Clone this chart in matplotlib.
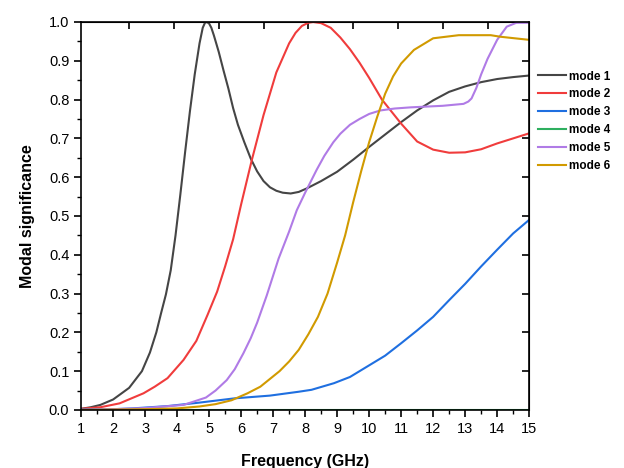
import matplotlib.pyplot as plt
from matplotlib.ticker import MultipleLocator

# mode 1
f1 = [1, 1.3, 1.6, 2.0, 2.5, 2.9, 3.15, 3.35, 3.5, 3.65, 3.8, 3.95, 4.1, 4.25, 4.4, 4.55, 4.7,
      4.8, 4.87, 4.93, 5.0, 5.07, 5.15, 5.3, 5.45, 5.6, 5.75, 5.9, 6.1, 6.3, 6.5, 6.7, 6.9, 7.1,
      7.3, 7.55, 7.8, 8.05, 8.5, 9.0, 9.5, 10.0, 10.5, 11, 11.5, 12, 12.5, 13, 13.5, 14, 14.5, 15]
m1 = [0.003, 0.007, 0.013, 0.027, 0.057, 0.10, 0.148, 0.20, 0.25, 0.298, 0.36, 0.45, 0.555, 0.665,
      0.77, 0.865, 0.945, 0.985, 0.998, 1.0, 0.996, 0.985, 0.965, 0.923, 0.875, 0.829, 0.778,
      0.735, 0.69, 0.648, 0.615, 0.59, 0.574, 0.565, 0.56, 0.558, 0.562, 0.571, 0.59, 0.614,
      0.645, 0.678, 0.71, 0.742, 0.772, 0.798, 0.82, 0.834, 0.845, 0.853, 0.858, 0.862]

# mode 2
f2 = [1, 1.6, 2.2, 2.95, 3.3, 3.7, 4.2, 4.6, 4.95, 5.25, 5.5, 5.75, 6.0, 6.33, 6.7, 7.1, 7.5, 7.7,
      7.9, 8.1, 8.25, 8.5, 8.8, 9.1, 9.4, 9.7, 10.0, 10.4, 11, 11.5, 12, 12.5, 13, 13.5, 14,
      14.5, 15]
m2 = [0.003, 0.007, 0.017, 0.043, 0.06, 0.082, 0.129, 0.178, 0.245, 0.305, 0.37, 0.44, 0.53, 0.643,
      0.76, 0.87, 0.945, 0.972, 0.99, 0.998, 1.0, 0.997, 0.985, 0.96, 0.93, 0.895, 0.856, 0.80,
      0.738, 0.692, 0.671, 0.663, 0.664, 0.672, 0.687, 0.70, 0.713]

# mode 3
f3 = [1, 2, 2.6, 3.7, 4.7, 5.8, 6.9, 7.8, 8.2, 8.9, 9.4, 9.9, 10.5, 11, 11.5, 12, 12.5, 13, 13.5,
      14, 14.5, 15]
m3 = [0.001, 0.002, 0.004, 0.01, 0.019, 0.03, 0.037, 0.047, 0.052, 0.069, 0.085, 0.11, 0.14,
      0.172, 0.205, 0.24, 0.283, 0.325, 0.37, 0.413, 0.455, 0.49]

# mode 4
f4 = [1, 3, 5, 7, 9, 11, 13, 15]
m4 = [0.001, 0.001, 0.001, 0.001, 0.001, 0.001, 0.001, 0.001]

# mode 5
f5 = [1, 2, 3, 4.2, 4.9, 5.2, 5.55, 5.8, 6.07, 6.3, 6.5, 6.8, 7.17, 7.5, 7.74, 8.0, 8.36, 8.6,
      8.88, 9.1, 9.4, 9.7, 10.0, 10.35, 10.8, 11.3, 12.3, 12.95, 13.1, 13.2, 13.35, 13.5, 13.7,
      14.0, 14.3, 14.6, 15]
m5 = [0.0, 0.002, 0.005, 0.013, 0.032, 0.05, 0.077, 0.105, 0.146, 0.185, 0.225, 0.295, 0.39, 0.46,
      0.515, 0.56, 0.619, 0.655, 0.69, 0.712, 0.735, 0.75, 0.763, 0.772, 0.777, 0.78, 0.784,
      0.789, 0.795, 0.803, 0.83, 0.865, 0.905, 0.954, 0.988, 0.998, 0.998]

# mode 6
f6 = [1, 2, 3, 4, 4.7, 5.2, 5.7, 6.2, 6.6, 6.9, 7.2, 7.5, 7.8, 8.1, 8.4, 8.7, 9.0, 9.25, 9.5,
      9.75, 10, 10.25, 10.5, 10.75, 11, 11.4, 12, 12.8, 13.8, 14.1, 15]
m6 = [0.0, 0.001, 0.002, 0.004, 0.009, 0.015, 0.025, 0.043, 0.06, 0.08, 0.1, 0.125, 0.155, 0.195,
      0.24, 0.3, 0.38, 0.45, 0.535, 0.615, 0.69, 0.755, 0.815, 0.86, 0.893, 0.928, 0.958, 0.966,
      0.966, 0.962, 0.954]

labels = ['mode 1', 'mode 2', 'mode 3', 'mode 4', 'mode 5', 'mode 6']
colors = ['#454545', '#F03C3C', '#1F6FE0', '#2EAF5F', '#B07BE6', '#D19A00']

plt.rcParams['font.family'] = ['Liberation Sans', 'DejaVu Sans']

fig = plt.figure(figsize=(6.24, 4.68), dpi=100)
ax = fig.add_axes([0.13, 0.124, 0.718, 0.829])

for f, m, lab, c in zip([f1, f2, f3, f4, f5, f6], [m1, m2, m3, m4, m5, m6], labels, colors):
    ax.plot(f, m, color=c, lw=1.5, label=lab)

ax.set_xlim(1, 15)
ax.set_ylim(0, 1.0)
ax.xaxis.set_major_locator(MultipleLocator(1))
ax.xaxis.set_minor_locator(MultipleLocator(0.5))
ax.yaxis.set_major_locator(MultipleLocator(0.1))
ax.yaxis.set_minor_locator(MultipleLocator(0.05))
ax.yaxis.set_major_formatter(plt.FormatStrFormatter('%.1f'))
ax.tick_params(which='major', direction='out', length=5, width=1.2, labelsize=10.5)
ax.tick_params(which='minor', direction='out', length=3, width=1.0)
for s in ax.spines.values():
    s.set_linewidth(1.2)

# top and right ticks pointing inward
top = ax.secondary_xaxis('top')
top.set_xticks([2.5, 3.9, 5.3, 6.7, 8.1, 9.5, 10.9, 12.3, 13.7])
top.tick_params(direction='in', length=5, width=1.2, labeltop=False)
right = ax.secondary_yaxis('right')
right.set_yticks([0.1 * i for i in range(1, 10)])
right.tick_params(direction='in', length=5, width=1.2, labelright=False)

ax.set_xlabel('Frequency (GHz)', fontsize=11.5, fontweight='bold', labelpad=13)
ax.set_ylabel('Modal significance', fontsize=11.5, fontweight='bold', labelpad=10)

fig.legend(loc='upper left', bbox_to_anchor=(0.845, 0.872), frameon=False,
           prop={'size': 8.5, 'weight': 'bold'}, handlelength=2.4, handletextpad=0.2,
           labelspacing=0.5)

fig.savefig('out.png', dpi=100)
